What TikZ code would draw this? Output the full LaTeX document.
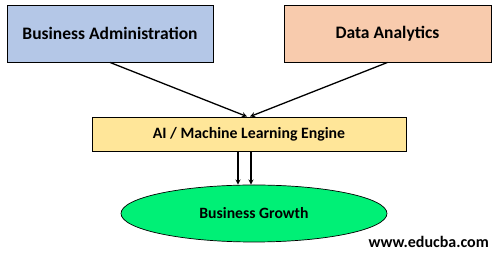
\documentclass[tikz,border=0pt]{standalone}
\usepackage{fontspec}
\setmainfont{Carlito}
\usetikzlibrary{shapes.geometric}
\definecolor{bablue}{RGB}{180,199,231}
\definecolor{daorange}{RGB}{248,203,173}
\definecolor{aiyellow}{RGB}{255,230,153}
\definecolor{bggreen}{RGB}{0,240,118}
\begin{document}
\begin{tikzpicture}[
x=1pt, y=-1pt,
every node/.style={
draw,
align=center,
font=\bfseries,
inner sep=0pt
},
box/.style={
rectangle,
line width=0.9pt
},
link/.style={
-stealth,
line width=1.3pt
}
]

\useasboundingbox (0,0) rectangle (499,256);

\node[box, fill=bablue, minimum width=206pt, minimum height=57pt,
font=\bfseries\fontsize{17.5}{20}\selectfont] (BA) at (110,33.5)
{Business Administration};

\node[box, fill=daorange, minimum width=207pt, minimum height=57pt,
font=\bfseries\fontsize{17.5}{20}\selectfont] (DA) at (387.5,33.5)
{Data Analytics};

\node[box, fill=aiyellow, minimum width=314pt, minimum height=34pt,
font=\bfseries\fontsize{15.8}{18}\selectfont] (AI) at (249,134)
{AI / Machine Learning Engine};

\node[ellipse, fill=bggreen, line width=0.7pt, minimum width=266pt, minimum height=57pt,
font=\bfseries\fontsize{15.7}{18}\selectfont] (BG) at (254,213.5)
{Business Growth};

\node[draw=none, anchor=east, font=\bfseries\fontsize{16}{18}\selectfont] (W) at (489,242)
{www.educba.com};

\draw[link] (BA.south) -- ([xshift=-2pt]AI.north);
\draw[link] (DA.south) -- ([xshift=1pt]AI.north);
\draw[link] ([xshift=-11pt]AI.south) -- ([xshift=-16pt]BG.north);
\draw[link] ([xshift=2pt]AI.south) -- ([xshift=-3pt]BG.north);

\end{tikzpicture}
\end{document}
